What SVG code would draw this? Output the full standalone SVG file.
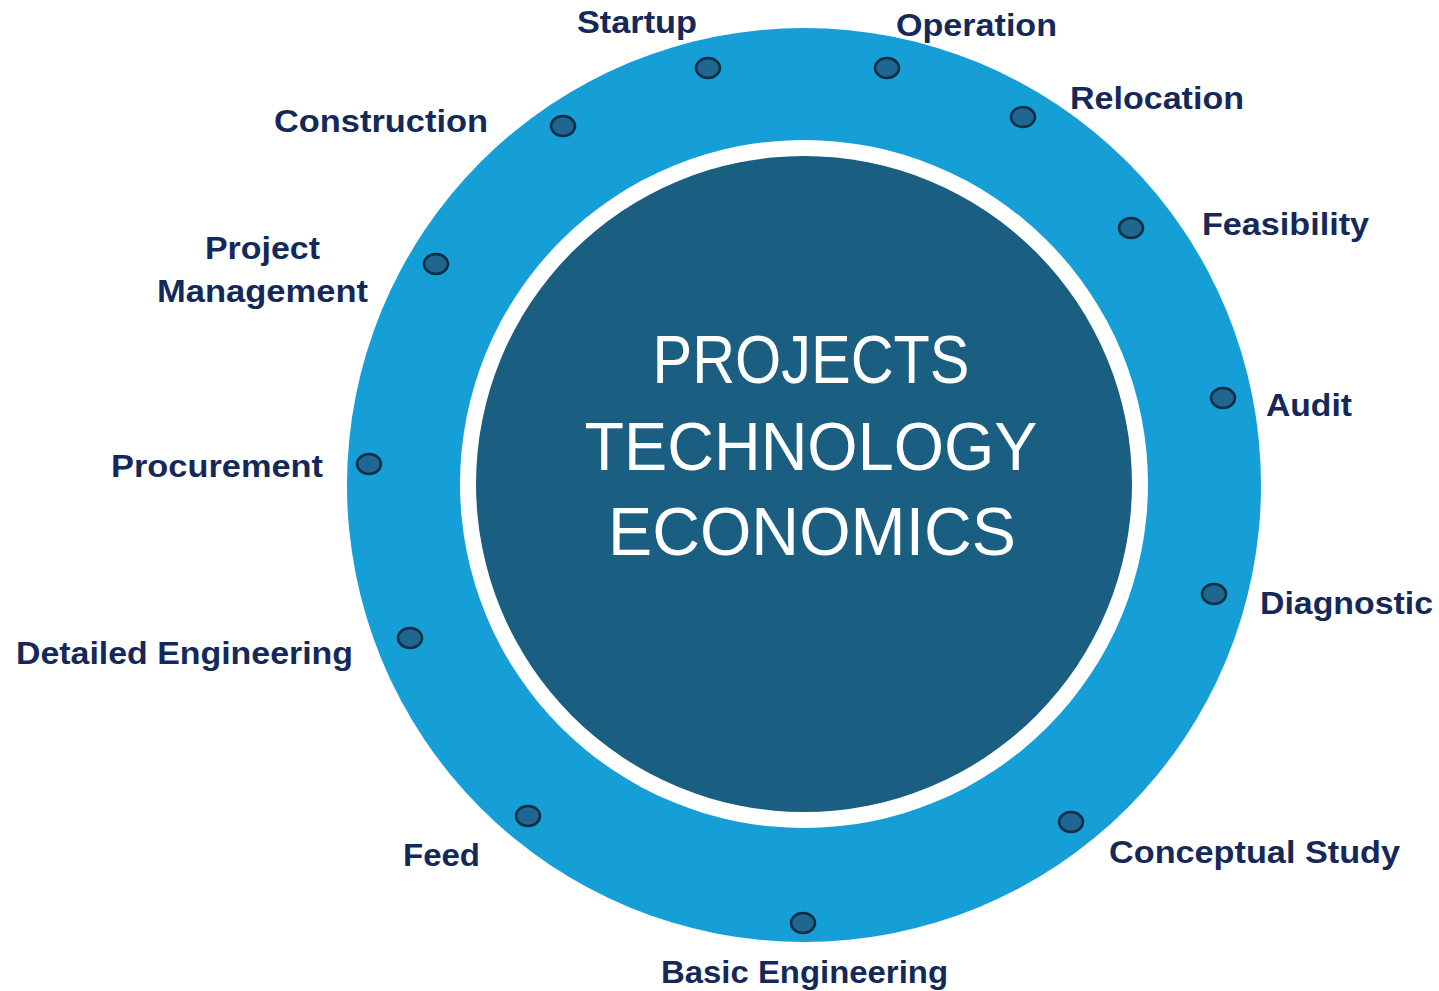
<svg xmlns="http://www.w3.org/2000/svg" width="1439" height="991" viewBox="0 0 1439 991">
<style>
.lbl{font-family:"Liberation Sans",Arial,sans-serif;font-weight:bold;font-size:31px;fill:#14295A}
.ctr{font-family:"Liberation Sans",Arial,sans-serif;font-size:68px;fill:#FFFFFF;text-anchor:middle}
.dot{fill:#1F6791;stroke:#0F2E45;stroke-width:2.5}
</style>
<rect width="1439" height="991" fill="#FFFFFF"/>
<g id="ring">
<circle cx="804" cy="485" r="457" fill="#169ED6"/>
<circle cx="804" cy="484" r="344" fill="#FFFFFF"/>
<circle cx="804" cy="484" r="328" fill="#1A5E81"/>
</g>
<g id="center">
<text class="ctr" x="811" y="383" textLength="317" lengthAdjust="spacingAndGlyphs">PROJECTS</text>
<text class="ctr" x="811" y="470" textLength="453" lengthAdjust="spacingAndGlyphs">TECHNOLOGY</text>
<text class="ctr" x="812" y="555" textLength="408" lengthAdjust="spacingAndGlyphs">ECONOMICS</text>
</g>
<g id="n-startup"><ellipse class="dot" cx="708" cy="68" rx="12" ry="10"/><text class="lbl" x="577" y="33" textLength="120" lengthAdjust="spacingAndGlyphs">Startup</text></g>
<g id="n-operation"><ellipse class="dot" cx="887" cy="68" rx="12" ry="10"/><text class="lbl" x="896" y="36" textLength="161" lengthAdjust="spacingAndGlyphs">Operation</text></g>
<g id="n-relocation"><ellipse class="dot" cx="1023" cy="117" rx="12" ry="10"/><text class="lbl" x="1070" y="109" textLength="174" lengthAdjust="spacingAndGlyphs">Relocation</text></g>
<g id="n-construction"><ellipse class="dot" cx="563" cy="126" rx="12" ry="10"/><text class="lbl" x="274" y="132" textLength="214" lengthAdjust="spacingAndGlyphs">Construction</text></g>
<g id="n-feasibility"><ellipse class="dot" cx="1131" cy="228" rx="12" ry="10"/><text class="lbl" x="1202" y="235" textLength="167" lengthAdjust="spacingAndGlyphs">Feasibility</text></g>
<g id="n-pm"><ellipse class="dot" cx="436" cy="264" rx="12" ry="10"/><text class="lbl" x="205" y="259" textLength="115" lengthAdjust="spacingAndGlyphs">Project</text><text class="lbl" x="157" y="302" textLength="211" lengthAdjust="spacingAndGlyphs">Management</text></g>
<g id="n-audit"><ellipse class="dot" cx="1223" cy="398" rx="12" ry="10"/><text class="lbl" x="1266" y="416" textLength="86" lengthAdjust="spacingAndGlyphs">Audit</text></g>
<g id="n-procurement"><ellipse class="dot" cx="369" cy="464" rx="12" ry="10"/><text class="lbl" x="111" y="477" textLength="212" lengthAdjust="spacingAndGlyphs">Procurement</text></g>
<g id="n-diagnostic"><ellipse class="dot" cx="1214" cy="594" rx="12" ry="10"/><text class="lbl" x="1260" y="614" textLength="173" lengthAdjust="spacingAndGlyphs">Diagnostic</text></g>
<g id="n-detailed"><ellipse class="dot" cx="410" cy="638" rx="12" ry="10"/><text class="lbl" x="16" y="664" textLength="337" lengthAdjust="spacingAndGlyphs">Detailed Engineering</text></g>
<g id="n-conceptual"><ellipse class="dot" cx="1071" cy="822" rx="12" ry="10"/><text class="lbl" x="1109" y="863" textLength="291" lengthAdjust="spacingAndGlyphs">Conceptual Study</text></g>
<g id="n-feed"><ellipse class="dot" cx="528" cy="816" rx="12" ry="10"/><text class="lbl" x="403" y="866" textLength="77" lengthAdjust="spacingAndGlyphs">Feed</text></g>
<g id="n-basic"><ellipse class="dot" cx="803" cy="923" rx="12" ry="10"/><text class="lbl" x="661" y="983" textLength="287" lengthAdjust="spacingAndGlyphs">Basic Engineering</text></g>
<g id="connectors"></g>
</svg>
